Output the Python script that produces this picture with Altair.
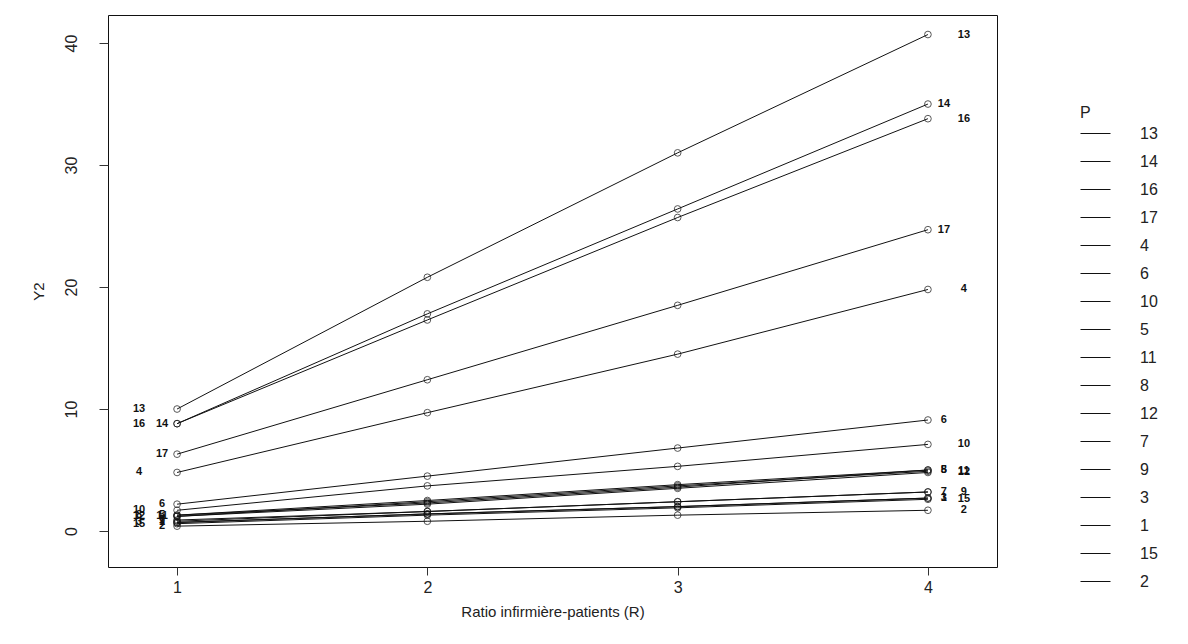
import altair as alt
import pandas as pd

R = [1, 2, 3, 4]
legend_order = ["13", "14", "16", "17", "4", "6", "10", "5", "11", "8", "12", "7", "9", "3", "1", "15", "2"]

P13 = [10.0, 20.8, 31.0, 40.7]
P14 = [8.8, 17.8, 26.4, 35.0]
P16 = [8.8, 17.3, 25.7, 33.8]
P17 = [6.3, 12.4, 18.5, 24.7]
P4 = [4.8, 9.7, 14.5, 19.8]
P6 = [2.2, 4.5, 6.8, 9.1]
P10 = [1.7, 3.7, 5.3, 7.1]
P5 = [1.3, 2.5, 3.8, 5.0]
P11 = [1.2, 2.4, 3.7, 4.9]
P8 = [1.3, 2.3, 3.6, 5.0]
P12 = [1.2, 2.2, 3.5, 4.8]
P7 = [0.9, 1.6, 2.4, 3.2]
P9 = [0.8, 1.6, 2.4, 3.2]
P3 = [0.7, 1.4, 2.0, 2.7]
P1 = [0.7, 1.4, 2.0, 2.7]
P15 = [0.6, 1.3, 1.9, 2.6]
P2 = [0.4, 0.8, 1.3, 1.7]

series = {"13": P13, "14": P14, "16": P16, "17": P17, "4": P4, "6": P6, "10": P10,
          "5": P5, "11": P11, "8": P8, "12": P12, "7": P7, "9": P9, "3": P3,
          "1": P1, "15": P15, "2": P2}

# label column (near / far) for end labels, style only
left_far = {"13", "16", "4", "10", "8", "12", "3", "15"}
right_far = {"13", "16", "4", "10", "12", "11", "9", "15", "2"}

rows = []
for p, vals in series.items():
    for r, v in zip(R, vals):
        rows.append({"R": r, "Y2": v, "P": p})
df = pd.DataFrame(rows)

left = pd.DataFrame([{"R": 1, "Y2": v[0], "P": p} for p, v in series.items()])
right = pd.DataFrame([{"R": 4, "Y2": v[3], "P": p} for p, v in series.items()])

FONT = "Liberation Sans"
xs = alt.Scale(domain=[0.724, 4.276], nice=False, zero=False)
ys = alt.Scale(domain=[-2.95, 42.3], nice=False, zero=False)
col = alt.Scale(domain=legend_order, range=["#111111"] * len(legend_order))

base = alt.Chart(df)
lines = base.mark_line(strokeWidth=1).encode(
    x=alt.X("R:Q", scale=xs, title="Ratio infirmière-patients (R)",
            axis=alt.Axis(values=[1, 2, 3, 4], format="d", grid=False, domain=False,
                          tickSize=8, tickColor="#333", labelFontSize=16, labelFont=FONT,
                          labelColor="#222", labelPadding=4, titleFont=FONT, titleFontSize=15,
                          titleFontWeight="normal", titleColor="#222", titlePadding=9)),
    y=alt.Y("Y2:Q", scale=ys, title="Y2",
            axis=alt.Axis(values=[0, 10, 20, 30, 40], grid=False, domain=False,
                          tickSize=9, tickColor="#333", labelFontSize=16, labelFont=FONT,
                          labelColor="#222", labelAngle=270, labelAlign="center",
                          labelBaseline="bottom", labelPadding=20, titleFont=FONT,
                          titleFontSize=15, titleFontWeight="normal", titleColor="#222",
                          titlePadding=17)),
    color=alt.Color("P:N", scale=col, sort=legend_order,
                    legend=alt.Legend(title="P", orient="none", legendX=972, legendY=90,
                                      symbolType="stroke", symbolSize=900, symbolStrokeWidth=1,
                                      labelFontSize=16, labelFont=FONT, labelColor="#222",
                                      titleFontSize=16, titleFont=FONT, titleFontWeight="normal",
                                      titleColor="#222", titlePadding=-3, rowPadding=4,
                                      labelOffset=29, symbolOffset=0, labelLimit=100)),
    detail="P:N",
)
points = base.mark_point(shape="circle", filled=False, size=45, strokeWidth=1, color="#111").encode(
    x=alt.X("R:Q", scale=xs), y=alt.Y("Y2:Q", scale=ys))

def labels(d, far, dx_near, dx_far):
    d = d.copy()
    d["far"] = d["P"].isin(far)
    near_df = d[~d["far"]]
    far_df = d[d["far"]]
    out = []
    for sub, dx in ((near_df, dx_near), (far_df, dx_far)):
        out.append(alt.Chart(sub).mark_text(font=FONT, fontSize=11,
                                            fontWeight="bold", color="#111", dx=dx,
                                            baseline="middle", align="center").encode(
            x=alt.X("R:Q", scale=xs), y=alt.Y("Y2:Q", scale=ys), text="P:N"))
    return out

texts = labels(left, left_far, -15, -38) + labels(right, right_far, 16, 36)

chart = alt.layer(lines, points, *texts).properties(
    width=889, height=552,
    padding={"left": 108, "top": 15, "right": 191, "bottom": 77},
    autosize=alt.AutoSizeParams(type="none"),
    background="white",
).configure_view(stroke="#111", strokeWidth=1)

chart.save("out.html", embed_options={"renderer": "svg", "actions": False})
